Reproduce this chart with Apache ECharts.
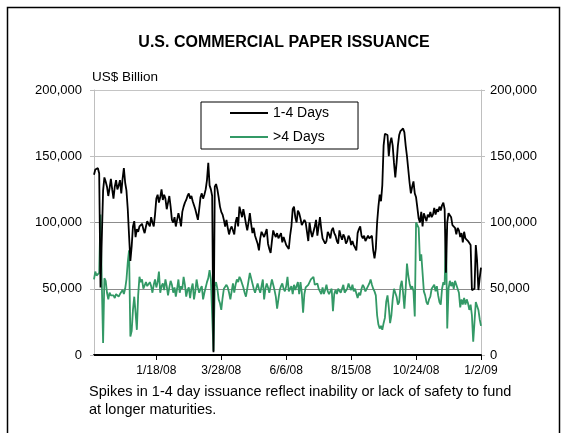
<!DOCTYPE html>
<html>
<head>
<meta charset="utf-8">
<script src="https://cdn.jsdelivr.net/npm/echarts@6/dist/echarts.min.js"></script>
<style>
  html, body { margin: 0; padding: 0; background: #fff; }
  #chart { width: 568px; height: 433px; }
</style>
</head>
<body>
<div id="chart"></div>
<script>
// Business-day span of the series (weekdays only)
const firstDay = '2007-11-13';
const lastDay = '2009-01-02';

// Dates that carry a tick and a label on the time axis
const tickLabels = ['1/18/08', '3/28/08', '6/6/08', '8/15/08', '10/24/08', '1/2/09'];

// Value axis ticks (US$ million figures, labelled as in the source)
const yMin = 0, yMax = 200000, yStep = 50000;

// Daily commercial paper issuance, 1-4 day maturities
const shortTerm = [
 136000,140000,139000,141000,137000,51000,50000,124000,134000,131000,
 127000,120000,126000,133000,125000,118000,127000,132000,125000,128000,
 132000,122000,133000,141000,130000,124000,110000,90000,71000,82000,
 97000,101000,89000,95000,93000,97000,96000,99000,95000,92000,
 97000,101000,99000,97000,104000,100000,97000,106000,118000,121000,
 115000,119000,125000,117000,121000,118000,110000,115000,120000,112000,
 102000,100000,104000,97000,102000,107000,103000,97000,108000,112000,
 115000,117000,120000,122000,118000,120000,116000,113000,110000,106000,
 102000,110000,119000,122000,118000,121000,125000,132000,145000,128000,
 125000,120000,2000,127000,129000,125000,119000,112000,108000,106000,
 102000,97000,102000,96000,91000,95000,97000,94000,91000,100000,
 104000,97000,112000,108000,104000,110000,105000,99000,94000,100000,
 107000,99000,92000,96000,90000,87000,84000,79000,88000,93000,
 91000,89000,92000,95000,84000,80000,77000,86000,94000,91000,
 89000,92000,88000,87000,92000,85000,89000,86000,83000,82000,
 80000,90000,97000,110000,112000,104000,100000,109000,107000,103000,
 98000,97000,102000,100000,99000,86000,100000,93000,89000,88000,
 97000,102000,90000,97000,104000,95000,88000,89000,84000,86000,
 93000,91000,88000,94000,96000,92000,90000,86000,84000,94000,
 90000,87000,91000,89000,84000,86000,90000,88000,83000,86000,
 83000,81000,79000,92000,95000,97000,90000,88000,90000,86000,
 87000,90000,88000,87000,90000,79000,73000,80000,100000,112000,
 121000,116000,128000,158000,167000,168000,166000,150000,160000,164000,
 158000,145000,134000,145000,158000,166000,169000,170000,171000,168000,
 158000,150000,140000,130000,122000,127000,131000,122000,119000,111000,
 103000,100000,108000,97000,107000,104000,101000,106000,104000,108000,
 104000,106000,111000,106000,110000,108000,112000,109000,113000,115000,
 110000,62000,100000,107000,107000,104000,98000,97000,96000,91000,
 96000,94000,89000,92000,85000,93000,88000,87000,86000,85000,
 83000,49000,49000,50000,83000,71000,49000,58000,66000
];

// Daily commercial paper issuance, maturities over 4 days
const longerTerm = [
 57000,63000,60000,61000,62000,106000,55000,9000,58000,56000,
 47000,42000,47000,45000,44000,45000,43000,46000,45000,44000,
 46000,47000,49000,46000,50000,57000,70000,79000,14000,18000,
 34000,44000,32000,19000,45000,59000,55000,57000,50000,51000,
 55000,52000,51000,55000,52000,47000,53000,57000,51000,55000,
 63000,47000,52000,54000,49000,57000,52000,45000,51000,56000,
 53000,47000,51000,44000,50000,57000,47000,52000,50000,59000,
 53000,44000,49000,51000,43000,50000,54000,42000,48000,57000,
 51000,47000,50000,52000,42000,47000,51000,55000,58000,64000,
 57000,56000,3000,52000,55000,50000,42000,39000,34000,43000,
 50000,49000,53000,51000,47000,42000,48000,54000,47000,53000,
 57000,55000,59000,57000,54000,51000,47000,44000,50000,56000,
 62000,58000,57000,50000,47000,46000,54000,50000,47000,52000,
 57000,42000,50000,54000,51000,47000,52000,57000,53000,49000,
 44000,35000,42000,49000,52000,54000,50000,48000,52000,59000,
 48000,50000,52000,46000,53000,49000,48000,55000,46000,55000,
 47000,32000,46000,51000,50000,53000,55000,57000,56000,59000,
 53000,52000,54000,50000,48000,46000,51000,46000,49000,53000,
 48000,46000,48000,50000,33000,46000,49000,46000,50000,51000,
 47000,48000,53000,47000,46000,50000,54000,51000,49000,53000,
 48000,50000,51000,43000,47000,45000,50000,53000,51000,48000,
 49000,52000,54000,57000,53000,50000,48000,45000,30000,23000,
 20000,22000,19000,24000,28000,40000,45000,36000,24000,30000,
 42000,50000,51000,44000,38000,40000,52000,56000,47000,35000,
 50000,69000,60000,54000,50000,52000,48000,29000,100000,99000,
 96000,71000,76000,62000,48000,45000,40000,38000,42000,44000,
 50000,51000,53000,48000,52000,45000,40000,38000,50000,55000,
 53000,95000,20000,50000,56000,52000,55000,50000,56000,53000,
 54000,47000,36000,42000,38000,43000,38000,42000,39000,34000,
 38000,30000,10000,25000,40000,37000,34000,27000,22000
];

// Build the weekday category list, formatted M/D/YY
function weekdayLabels(from, to) {
  const out = [];
  const d = new Date(from + 'T00:00:00Z');
  const end = new Date(to + 'T00:00:00Z');
  while (d <= end) {
    const w = d.getUTCDay();
    if (w !== 0 && w !== 6) {
      out.push((d.getUTCMonth() + 1) + '/' + d.getUTCDate() + '/' + String(d.getUTCFullYear()).slice(2));
    }
    d.setUTCDate(d.getUTCDate() + 1);
  }
  return out;
}
const days = weekdayLabels(firstDay, lastDay);
const showTick = (idx, val) => tickLabels.indexOf(val) !== -1;

const FONT = '"Liberation Sans", Arial, Helvetica, sans-serif';
const GREEN = '#339966';

const valueAxis = (position) => ({
  type: 'value',
  position: position,
  min: yMin, max: yMax, interval: yStep,
  axisLine: { show: true, lineStyle: { color: '#bfbfbf', width: 1 } },
  axisTick: { show: true, length: 4, lineStyle: { color: '#bfbfbf' } },
  axisLabel: {
    color: '#000', fontSize: 13, fontFamily: FONT,
    margin: position === 'left' ? 12 : 9,
    formatter: v => v.toLocaleString('en-US')
  },
  splitLine: position === 'left'
    ? { show: true, lineStyle: { color: ['#999', '#8c8c8c', '#8c8c8c', '#bdbdbd', '#c4c4c4'], width: 1 } }
    : { show: false }
});

const chart = echarts.init(document.getElementById('chart'), null, { renderer: 'canvas' });
chart.setOption({
  animation: false,
  backgroundColor: '#fff',
  textStyle: { fontFamily: FONT },
  title: {
    text: 'U.S. COMMERCIAL PAPER ISSUANCE',
    left: 'center', top: 35, padding: 0,
    textStyle: { fontSize: 16, fontWeight: 'bold', color: '#000', fontFamily: FONT }
  },
  legend: {
    orient: 'vertical',
    left: 201, top: 102,
    padding: [4, 29, 5, 29],
    itemGap: 10,
    itemWidth: 38, itemHeight: 2,
    icon: 'rect',
    borderColor: '#000', borderWidth: 1,
    textStyle: { fontSize: 14, color: '#000', fontFamily: FONT },
    data: ['1-4 Days', '>4 Days']
  },
  grid: { left: 94, right: 87, top: 90, bottom: 78 },
  xAxis: {
    type: 'category',
    data: days,
    boundaryGap: false,
    axisLine: { lineStyle: { color: '#000', width: 2 } },
    axisTick: { interval: showTick, length: 5, lineStyle: { color: '#000', width: 1 } },
    axisLabel: { interval: showTick, color: '#000', fontSize: 12, margin: 10, fontFamily: FONT },
    splitLine: { show: false }
  },
  yAxis: [valueAxis('left'), valueAxis('right')],
  series: [
    {
      name: '1-4 Days', type: 'line', data: shortTerm,
      symbol: 'none', showSymbol: false,
      lineStyle: { color: '#000', width: 1.8 },
      itemStyle: { color: '#000' },
      z: 3
    },
    {
      name: '>4 Days', type: 'line', data: longerTerm,
      symbol: 'none', showSymbol: false,
      lineStyle: { color: GREEN, width: 1.8 },
      itemStyle: { color: GREEN },
      z: 2
    }
  ],
  graphic: [
    {
      type: 'rect', left: 5, top: 5, z: -1, silent: true,
      shape: { width: 552, height: 440 },
      style: { fill: 'none', stroke: '#000', lineWidth: 1.5 }
    },
    {
      type: 'text', left: 92, top: 70,
      style: { text: 'US$ Billion', fontSize: 13.5, fill: '#000', fontFamily: FONT }
    },
    {
      type: 'text', left: 89, top: 383,
      style: {
        text: 'Spikes in 1-4 day issuance reflect inability or lack of safety to fund\nat longer maturities.',
        fontSize: 14.5, lineHeight: 18, fill: '#000', fontFamily: FONT
      }
    }
  ]
});
</script>
</body>
</html>
